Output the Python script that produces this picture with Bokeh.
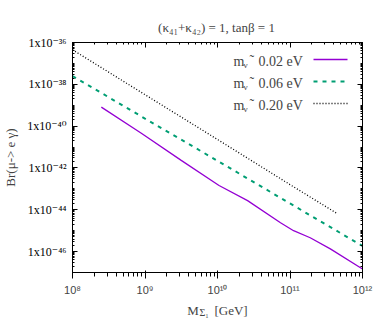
from bokeh.plotting import figure
from bokeh.models import Range1d, FixedTicker, LogAxis, Label, Arrow
from bokeh.embed import file_html
from bokeh.resources import INLINE

# ---- data ----
mass_002 = [2.5e8, 8.9e8, 3.16e9, 1.05e10, 2.6e10, 7.4e10, 1.12e11, 1.9e11, 3.6e11, 1.0e12]
br_002 = [8.1e-40, 4.6e-41, 2.3e-42, 1.45e-43, 2.75e-44, 2.4e-45, 1.0e-45, 4.6e-46, 1.35e-46, 1.48e-47]
mass_006 = [1e8, 1e9, 1e10, 1e11, 1e12]
br_006 = [2.5e-38, 2.3e-40, 2.2e-42, 2.0e-44, 1.86e-46]
mass_020 = [1e8, 1e9, 1e10, 1e11, 4.5e11]
br_020 = [4.5e-37, 3.2e-39, 2.3e-41, 1.6e-43, 6.5e-45]

x_ticks = [1e8, 1e9, 1e10, 1e11, 1e12]
x_tick_labels = ["10⁸", "10⁹", "10¹⁰", "10¹¹", "10¹²"]
y_ticks = [1e-36, 1e-38, 1e-40, 1e-42, 1e-44, 1e-46]
y_tick_labels = ["1x10⁻³⁶", "1x10⁻³⁸", "1x10⁻⁴⁰", "1x10⁻⁴²", "1x10⁻⁴⁴", "1x10⁻⁴⁶"]
legend_values = ["0.02 eV", "0.06 eV", "0.20 eV"]

FONT = "Liberation Serif, DejaVu Serif"
purple, green, black = "#9400d3", "#009e73", "#000000"

x_minor = [m * 10 ** k for k in range(8, 12) for m in range(2, 10)]
y_minor = [m * 10.0 ** k for k in range(-47, -36) for m in range(2, 10)] + [10.0 ** k for k in range(-47, -35, 2)]

p = figure(width=382, height=327, x_axis_type="log", y_axis_type="log",
           x_range=Range1d(1e8, 1e12), y_range=Range1d(1e-47, 1e-36),
           output_backend="svg", toolbar_location=None,
           min_border_left=71, min_border_right=20, min_border_top=42, min_border_bottom=55)
p.grid.visible = False
p.outline_line_color = "black"
p.outline_line_width = 1
p.background_fill_color = "white"
p.border_fill_color = "white"

xt = FixedTicker(ticks=x_ticks, minor_ticks=x_minor)
yt = FixedTicker(ticks=y_ticks, minor_ticks=y_minor)

for ax in p.xaxis:
    ax.ticker = xt
    ax.major_label_overrides = dict(zip(x_ticks, x_tick_labels))
    ax.axis_label = "M\u2003\u2009[GeV]"
    ax.axis_label_standoff = 4
for ax in p.yaxis:
    ax.ticker = yt
    ax.major_label_overrides = dict(zip(y_ticks, y_tick_labels))
    ax.axis_label = "Br(μ-> e γ)"
    ax.axis_label_standoff = 6
for ax in p.xaxis + p.yaxis:
    ax.axis_label_text_font = FONT
    ax.axis_label_text_font_style = "normal"
    ax.axis_label_text_font_size = "13px"

top_ax = LogAxis(ticker=xt, major_label_overrides={t: " " for t in x_ticks})
right_ax = LogAxis(ticker=yt, major_label_overrides={t: " " for t in y_ticks})
p.add_layout(top_ax, "above")
p.add_layout(right_ax, "right")

for ax in [p.xaxis[0], p.yaxis[0], top_ax, right_ax]:
    ax.axis_line_color = "black"
    ax.major_tick_in = 5
    ax.major_tick_out = 0
    ax.minor_tick_in = 2
    ax.minor_tick_out = 0
    ax.major_tick_line_color = "black"
    ax.minor_tick_line_color = "black"
    ax.major_label_text_font = FONT
    ax.major_label_text_font_size = "12px"
    ax.major_label_text_color = "black"
    ax.major_label_standoff = 6
for ax in [top_ax, right_ax]:
    ax.major_label_text_font_size = "2px"
    ax.major_label_standoff = 0

p.line(mass_002, br_002, line_color=purple, line_width=1.3)
p.line(mass_006, br_006, line_color=green, line_width=2, line_dash="4 5")
p.line(mass_020, br_020, line_color=black, line_width=1.3, line_dash="1 2")

def canvas_label(x, y, text, size, align="left", place="center"):
    lab = Label(x=x, y=y, x_units="canvas", y_units="canvas", text=text,
                text_font=FONT, text_font_size=size, text_align=align,
                text_baseline="alphabetic")
    p.add_layout(lab, place)

# title
canvas_label(216, 27, "(κ₄₁+κ₄₂) = 1, tanβ = 1", "13px", "center", "above")
# subscript of the x axis label
canvas_label(199, 312, "Σ₁", "10px", place="above")

# legend
rows_y = [59, 81, 103]
styles = [(purple, 1.3, "solid"), (green, 2, "4 5"), (black, 1.3, "1 2")]
for yy, val, (col, lw, dash) in zip(rows_y, legend_values, styles):
    canvas_label(233, yy + 2, "m", "14px")
    canvas_label(243, yy + 5, "ν", "9px")
    canvas_label(249, yy + 1, "˜", "14px")
    canvas_label(258, yy + 2, val, "14px")
    p.add_layout(Arrow(x_start=313, y_start=yy, x_end=347, y_end=yy,
                       start_units="canvas", end_units="canvas", end=None,
                       line_color=col, line_width=lw, line_dash=dash))

open("out.html", "w").write(file_html(p, INLINE))
